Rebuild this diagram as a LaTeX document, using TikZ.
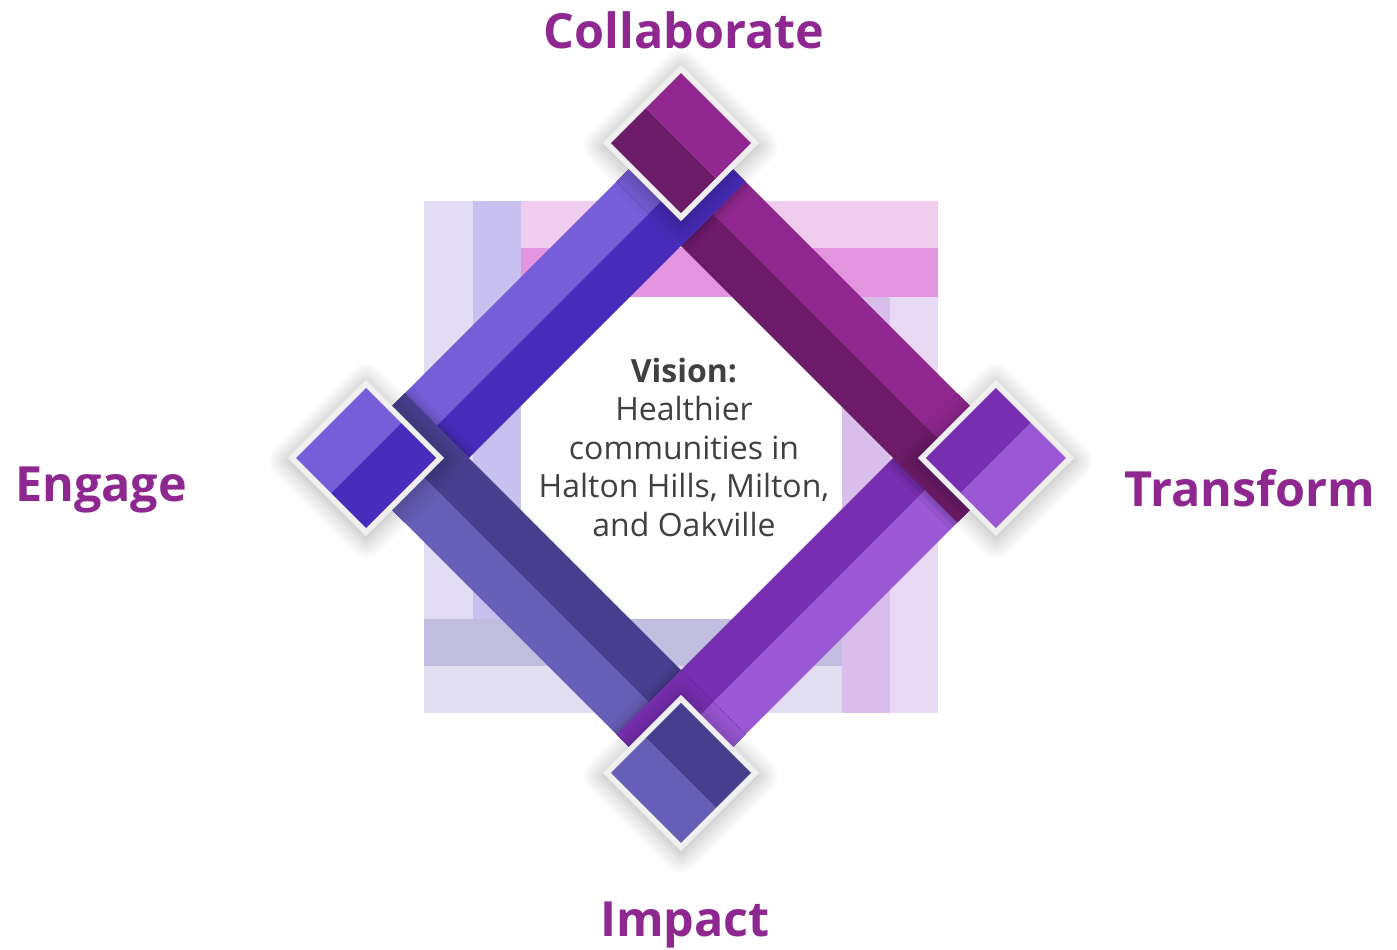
\documentclass[tikz,border=0pt]{standalone}
\usepackage{fontspec}
\setmainfont{Open Sans}
\usetikzlibrary{shadows.blur}

\definecolor{labelpurple}{HTML}{8E278F}
\definecolor{visiongray}{HTML}{404040}
\definecolor{bluelt}{HTML}{765ED8}
\definecolor{bluedk}{HTML}{472BBA}
\definecolor{magentalt}{HTML}{90278E}
\definecolor{magentadk}{HTML}{6C1B69}
\definecolor{purplelt}{HTML}{9A58D5}
\definecolor{purpledk}{HTML}{772EB0}
\definecolor{slatelt}{HTML}{675EB8}
\definecolor{slatedk}{HTML}{473F8E}
\definecolor{framegray}{HTML}{EFEFEF}
\definecolor{bgA}{HTML}{E2DDF5}
\definecolor{bgB}{HTML}{C8C0EE}
\definecolor{bgC}{HTML}{F0CCEE}
\definecolor{bgD}{HTML}{E396DF}
\definecolor{bgE}{HTML}{D9BDEB}
\definecolor{bgF}{HTML}{E8DAF4}
\definecolor{bgG}{HTML}{C2BEE0}
\definecolor{bgH}{HTML}{E0DEF0}

%% a box in the turned frame: (a1,b1) to (a2,b2)
\newcommand{\rbox}[4]{(#1,#2) -- (#3,#2) -- (#3,#4) -- (#1,#4) -- cycle}

\tikzset{
  cornerlabel/.style={font=\fontsize{48.5}{48.5}\selectfont\bfseries, text=labelpurple},
  visiontext/.style={font=\fontsize{32}{38.5}\selectfont, text=visiongray, align=center},
  cornershadow/.style={blur shadow={shadow xshift=0pt, shadow yshift=-3pt, shadow blur radius=20pt, shadow blur steps=20, shadow opacity=32}},
  endshadow/.style={blur shadow={shadow xshift=0pt, shadow yshift=0pt, shadow blur radius=10pt, shadow opacity=40}}
}

\begin{document}
\begin{tikzpicture}[x=1pt, y=-1pt]
\useasboundingbox (0,0) rectangle (1397,950);
%% the square frame behind, four bands turning round
\fill[bgA] (424,201) rectangle (473,619);
\fill[bgB] (473,201) rectangle (521,619);
\fill[bgC] (521,201) rectangle (938,248);
\fill[bgD] (521,248) rectangle (938,297);
\fill[bgE] (842,297) rectangle (890,713);
\fill[bgF] (890,297) rectangle (938,713);
\fill[bgG] (424,619) rectangle (842,666);
\fill[bgH] (424,666) rectangle (842,713);

%% turned frame: a goes up-right, b goes down-right
\begin{scope}[shift={(681,458)}, x={(0.7071pt,0.7071pt)}, y={(0.7071pt,-0.7071pt)}]
%% the four bars
    \fill[bluelt] \rbox{-241}{-241}{241}{-195.5};
    \fill[bluedk] \rbox{-241}{-195.5}{241}{-150};
    \fill[magentadk] \rbox{150}{-241}{195.5}{241};
    \fill[magentalt] \rbox{195.5}{-241}{241}{241};
    \fill[purpledk] \rbox{-241}{150}{241}{195.5};
    \fill[purplelt] \rbox{-241}{195.5}{241}{241};
    \fill[slatelt] \rbox{-241}{-241}{-195.5}{241};
    \fill[slatedk] \rbox{-195.5}{-241}{-150}{241};
%% each bar lies on top of the next one at a corner
    \begin{scope}
      \clip \rbox{150}{-241}{241}{241};
      \fill[bluelt, endshadow] \rbox{150}{-241}{241}{-150};
      \fill[bluedk] \rbox{150}{-195.5}{241}{-150};
    \end{scope}
    \begin{scope}
      \clip \rbox{-241}{150}{241}{241};
      \fill[magentadk, endshadow] \rbox{150}{150}{241}{241};
      \fill[magentalt] \rbox{195.5}{150}{241}{241};
    \end{scope}
    \begin{scope}
      \clip \rbox{-241}{-241}{-150}{241};
      \fill[purpledk, endshadow] \rbox{-241}{150}{-150}{241};
      \fill[purplelt] \rbox{-241}{195.5}{-150}{241};
    \end{scope}
    \begin{scope}
      \clip \rbox{-241}{-241}{241}{-150};
      \fill[slatelt, endshadow] \rbox{-241}{-241}{-150}{-150};
      \fill[slatedk] \rbox{-195.5}{-241}{-150}{-150};
    \end{scope}
%% corner diamonds with a light frame
    \fill[framegray, cornershadow] \rbox{167.5}{-277.9}{277.9}{-167.5};
    \fill[magentadk] \rbox{173.2}{-272.2}{222.7}{-173.2};
    \fill[magentalt] \rbox{222.7}{-272.2}{272.2}{-173.2};
    \fill[framegray, cornershadow] \rbox{-277.9}{-277.9}{-167.5}{-167.5};
    \fill[bluelt] \rbox{-272.2}{-272.2}{-173.2}{-222.7};
    \fill[bluedk] \rbox{-272.2}{-222.7}{-173.2}{-173.2};
    \fill[framegray, cornershadow] \rbox{167.5}{167.5}{277.9}{277.9};
    \fill[purpledk] \rbox{173.2}{173.2}{272.2}{222.7};
    \fill[purplelt] \rbox{173.2}{222.7}{272.2}{272.2};
    \fill[framegray, cornershadow] \rbox{-277.9}{167.5}{-167.5}{277.9};
    \fill[slatelt] \rbox{-272.2}{173.2}{-222.7}{272.2};
    \fill[slatedk] \rbox{-222.7}{173.2}{-173.2}{272.2};
\end{scope}

%% labels
\node[cornerlabel] (collaborate) at (684,30) {Collaborate};
\node[cornerlabel] (engage) at (101,490) {Engage};
\node[cornerlabel] (transform) at (1250,488) {Transform};
\node[cornerlabel] (impact) at (685,925) {Impact};
\node[visiontext] (vision) at (684,447) {\textbf{Vision:}\\Healthier\\communities in\\Halton Hills, Milton,\\and Oakville};
\end{tikzpicture}
\end{document}
